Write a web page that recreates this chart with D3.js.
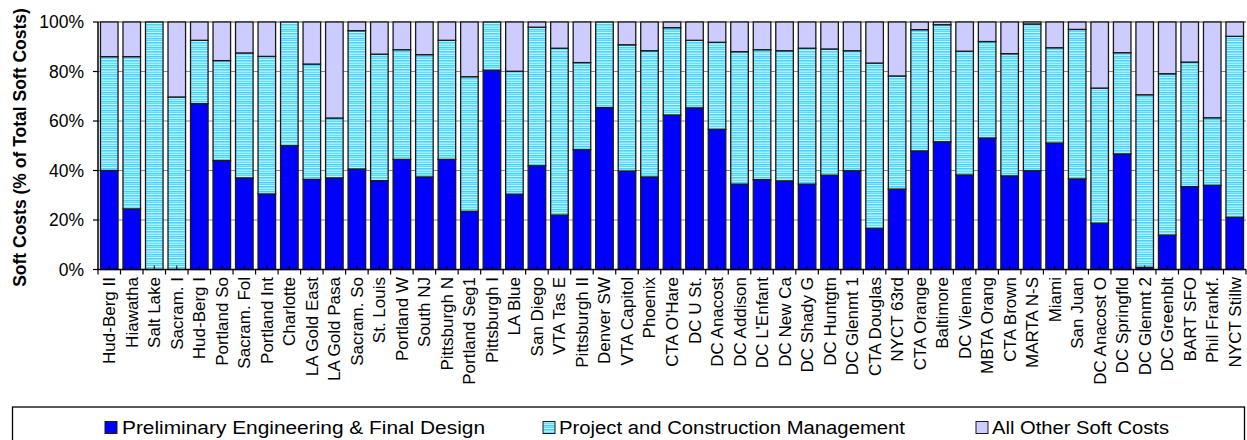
<!DOCTYPE html>
<html><head><meta charset="utf-8">
<script src="https://cdn.jsdelivr.net/npm/d3@7"></script>
<style>
html,body{margin:0;padding:0;background:#fff;}
svg text{font-family:"Liberation Sans",Arial,sans-serif;}
</style></head>
<body><svg id="chart" width="1247" height="440"></svg>
<script>
const categories = ["Hud-Berg II","Hiawatha","Salt Lake","Sacram. I","Hud-Berg I","Portland So","Sacram. Fol","Portland Int","Charlotte","LA Gold East","LA Gold Pasa","Sacram. So","St. Louis","Portland W","South NJ","Pittsburgh N","Portland Seg1","Pittsburgh I","LA Blue","San Diego","VTA Tas E","Pittsburgh II","Denver SW","VTA Capitol","Phoenix","CTA O'Hare","DC U St.","DC Anacost","DC Addison","DC L'Enfant","DC New Ca","DC Shady G","DC Huntgtn","DC Glenmt 1","CTA Douglas","NYCT 63rd","CTA Orange","Baltimore","DC Vienna","MBTA Orang","CTA Brown","MARTA N-S","Miami","San Juan","DC Anacost O","DC Springfld","DC Glenmt 2","DC Greenblt","BART SFO","Phil Frankf.","NYCT Stillw"];
const peFinalDesign = [40,24.5,0,0,67,44,37,30.5,50,36.4,37,40.6,35.9,44.5,37.4,44.5,23.5,80.5,30.4,41.9,22,48.4,65.4,39.8,37.4,62.4,65.3,56.6,34.5,36.3,35.8,34.5,38.1,39.9,16.6,32.5,47.9,51.6,38.2,53.1,37.8,39.9,51.1,36.6,18.7,46.7,0.9,13.9,33.5,34,21.1];
const constructionMgmt = [46,61.5,100,69.7,25.6,40.4,50.5,55.6,50,46.6,24.2,55.9,51.1,44.3,49.4,48.1,54.4,19.5,49.7,56,67.4,35.2,34.6,51,51,35.3,27.3,35.2,53.5,52.5,52.6,54.9,51,48.5,66.8,45.7,49,47.3,50,39,49.4,59.3,38.5,60.4,54.6,40.9,69.7,65.2,50.3,27.3,73.1];
const otherSoft = [14,14,0,30.3,7.4,15.6,12.5,13.9,0,17,38.8,3.5,13,11.2,13.2,7.4,22.1,0,19.9,2.1,10.6,16.4,0,9.2,11.6,2.3,7.4,8.2,12,11.2,11.6,10.6,10.9,11.6,16.6,21.8,3.1,1.1,11.8,7.9,12.8,0.8,10.4,3,26.7,12.4,29.4,20.9,16.2,38.7,5.8];
const seriesNames = ["Preliminary Engineering & Final Design","Project and Construction Management","All Other Soft Costs"];
const yTicks = [0,20,40,60,80,100];
const yTitle = "Soft Costs (% of Total Soft Costs)";

const svg = d3.select("#chart");
const defs = svg.append("defs");
const pat = defs.append("pattern").attr("id","cyanPat").attr("patternUnits","userSpaceOnUse")
  .attr("width",8).attr("height",9);
const stripeCols = ["#66dcff","#b3f0ff","#3dd2ff","#8fe6ff","#5ad8ff","#c4f4ff","#44d4ff","#7ee2ff","#a8edff"];
stripeCols.forEach((c,i)=>pat.append("rect").attr("x",0).attr("y",i).attr("width",8).attr("height",1).attr("fill",c));

const colors = ["#0000ff","url(#cyanPat)","#ccccff"];
const plotL = 98, plotR = 1246, plotT = 22, plotB = 269.5;

const x = d3.scaleBand().domain(categories).range([plotL,plotR]).paddingInner(0.22).paddingOuter(0.11);
const y = d3.scaleLinear().domain([0,100]).range([plotB,plotT]);

// gridlines
svg.append("g").selectAll("line").data(yTicks.filter(t=>t>0)).join("line")
  .attr("x1",plotL).attr("x2",plotR).attr("y1",d=>y(d)).attr("y2",d=>y(d))
  .attr("stroke",d=>d===100?"#444":"#8a8a8a").attr("stroke-width",1.2);

const rows = categories.map((c,i)=>({cat:c, a:peFinalDesign[i], b:constructionMgmt[i], c:otherSoft[i]}));
const stack = d3.stack().keys(["a","b","c"]);
const layers = stack(rows);

svg.append("g").selectAll("g").data(layers).join("g")
  .attr("fill",(d,i)=>colors[i])
  .selectAll("rect").data(d=>d.filter(p=>p[1]-p[0]>0.01)).join("rect")
  .attr("x",d=>x(d.data.cat)).attr("width",x.bandwidth())
  .attr("y",d=>y(d[1])).attr("height",d=>y(d[0])-y(d[1]))
  .attr("stroke","#1a1a1a").attr("stroke-width",1.3);

// axes
const ax = svg.append("g");
ax.append("line").attr("x1",plotL).attr("x2",plotL).attr("y1",plotT).attr("y2",plotB).attr("stroke","#000").attr("stroke-width",1.5);
ax.append("line").attr("x1",plotL-1).attr("x2",plotR).attr("y1",plotB).attr("y2",plotB).attr("stroke","#000").attr("stroke-width",1.5);
ax.selectAll(".yt").data(yTicks).join("line").attr("class","yt")
  .attr("x1",plotL-5).attr("x2",plotL).attr("y1",d=>y(d)).attr("y2",d=>y(d)).attr("stroke","#000").attr("stroke-width",1.2);
ax.selectAll(".yl").data(yTicks).join("text").attr("class","yl")
  .attr("x",84).attr("y",d=>y(d)).attr("dy","0.35em").attr("text-anchor","end")
  .attr("font-size","17.5px").attr("fill","#000").text(d=>d+"%");
const half = (x.step()-x.bandwidth())/2;
const bounds = categories.map(c=>x(c)-half).concat([plotR]);
ax.selectAll(".xt").data(bounds).join("line").attr("class","xt")
  .attr("x1",d=>d).attr("x2",d=>d).attr("y1",plotB).attr("y2",plotB+5).attr("stroke","#000").attr("stroke-width",1.2);
ax.selectAll(".xm").data(categories).join("line").attr("class","xm")
  .attr("x1",d=>x(d)+x.bandwidth()/2).attr("x2",d=>x(d)+x.bandwidth()/2).attr("y1",plotB-4).attr("y2",plotB).attr("stroke","#000").attr("stroke-width",1);
ax.selectAll(".xl").data(categories).join("text").attr("class","xl")
  .attr("transform",d=>`translate(${x(d)+x.bandwidth()/2+6},277) rotate(-90)`)
  .attr("text-anchor","end").attr("font-size","17px").attr("fill","#000").text(d=>d);

svg.append("text").attr("transform","translate(26,147.5) rotate(-90)")
  .attr("text-anchor","middle").attr("font-size","17.5px").attr("font-weight","bold").text(yTitle);

// legend
const lg = svg.append("g");
lg.append("rect").attr("x",12.5).attr("y",407).attr("width",1232).attr("height",45)
  .attr("fill","#fff").attr("stroke","#000").attr("stroke-width",1.3);
const legPos = [{sx:105,tx:122,tw:363},{sx:543,tx:559,tw:346},{sx:976,tx:992,tw:177}];
seriesNames.forEach((n,i)=>{
  lg.append("rect").attr("x",legPos[i].sx).attr("y",421.5).attr("width",12).attr("height",12)
    .attr("fill",colors[i]).attr("stroke","#1a1a1a").attr("stroke-width",1);
  lg.append("text").attr("x",legPos[i].tx).attr("y",433.5).attr("font-size","18px")
    .attr("textLength",legPos[i].tw).attr("lengthAdjust","spacingAndGlyphs").text(n);
});
</script></body></html>
